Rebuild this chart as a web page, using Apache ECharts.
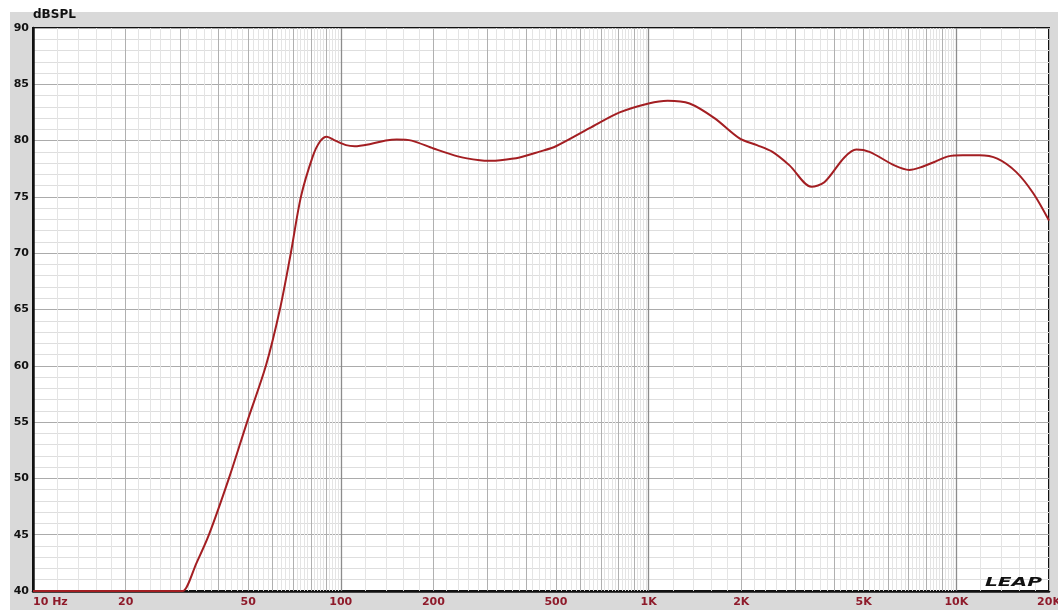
<!DOCTYPE html>
<html>
<head>
<meta charset="utf-8">
<script src="https://cdn.jsdelivr.net/npm/echarts@6/dist/echarts.min.js"></script>
<style>
html,body{margin:0;padding:0;background:#fff;overflow:hidden;}
#chart{width:1058px;height:610px;}
</style>
</head>
<body>
<div id="chart"></div>
<script>
// Frequency (Hz) and SPL (dB)
const freqs = [10, 30.4, 30.7, 34, 37.3, 43.3, 49.6, 57.1, 63.4, 68.8, 74.2, 81.1, 85.5, 90, 96, 104, 111, 125, 140, 152, 170, 200, 240, 283, 305, 330, 381, 440, 500, 643, 805, 1000, 1153, 1359, 1637, 1975, 2250, 2527, 2870, 3381, 3725, 4326, 4731, 5219, 6292, 7032, 7600, 8484, 9400, 10500, 11876, 13588, 15660, 17800, 20000];
const spl = [40, 40, 40, 42.5, 45, 50, 55, 60, 65, 70, 75, 78.6, 79.9, 80.35, 80.0, 79.6, 79.5, 79.7, 80.0, 80.1, 80.0, 79.3, 78.6, 78.25, 78.2, 78.25, 78.5, 79.0, 79.5, 81.1, 82.5, 83.3, 83.55, 83.3, 82.0, 80.2, 79.6, 79.0, 77.8, 75.9, 76.3, 78.5, 79.2, 79.0, 77.8, 77.4, 77.6, 78.1, 78.6, 78.7, 78.7, 78.4, 77.2, 75.3, 72.9];
const xTickValues = [10, 20, 50, 100, 200, 500, 1000, 2000, 5000, 10000, 20000];
const xTickLabels = ['10 Hz', '20', '50', '100', '200', '500', '1K', '2K', '5K', '10K', '20K'];
const yMin = 40, yMax = 90, yStep = 5;
const yName = 'dBSPL';

const curve = freqs.map((f, i) => [f, spl[i]]);

// vertical grid lines: every 0.2 of each decade unit
const vLines = [];
[10, 100, 1000, 10000].forEach(dec => {
  for (let k = 5; k < 50; k++) {
    const f = k * dec / 5;
    if (f > 20000 || f <= 10) continue;
    let style;
    if (k === 5) style = {color: '#8c8c8c', width: 1.3, type: 'solid'};
    else if (k % 5 === 0) style = {color: '#b0b0b0', width: 1, type: 'solid'};
    else style = {color: '#e4e4e4', width: 1, type: 'solid'};
    vLines.push({xAxis: f, lineStyle: style});
  }
});

const chart = echarts.init(document.getElementById('chart'), null, {renderer: 'canvas'});
const labelFont = 'DejaVu Sans';
chart.setOption({
  animation: false,
  backgroundColor: '#d9d9d9',
  graphic: [
    {type: 'rect', left: 0, top: 0, shape: {width: 1058, height: 12}, style: {fill: '#ffffff'}, z: -10, silent: true},
    {type: 'rect', left: 0, top: 0, shape: {width: 10, height: 610}, style: {fill: '#ffffff'}, z: -10, silent: true},
    {type: 'text', x: 985, y: 576, scaleX: 1.55, style: {text: 'LEAP', font: 'italic bold 13px "DejaVu Sans"', fill: '#111'}, z: 50, silent: true}
  ],
  grid: {left: 33, right: 9, top: 28, bottom: 19, show: true, backgroundColor: '#ffffff', borderColor: '#111', borderWidth: 2, containLabel: false, outerBoundsMode: 'none'},
  xAxis: {
    type: 'log', logBase: 10, min: 10, max: 20000,
    axisLine: {show: true, onZero: false, lineStyle: {color: '#111', width: 2.5}},
    axisTick: {show: false},
    splitLine: {show: false},
    axisLabel: {
      customValues: xTickValues,
      formatter: v => { const i = xTickValues.findIndex(t => Math.abs(t - v) / t < 1e-6); return i >= 0 ? xTickLabels[i] : ''; },
      color: '#8e1a2a', fontFamily: labelFont, fontWeight: 'bold', fontSize: 11, margin: 6,
      alignMinLabel: 'left', showMinLabel: true, showMaxLabel: true, hideOverlap: false
    }
  },
  yAxis: {
    type: 'value', min: yMin, max: yMax, interval: yStep,
    name: yName, nameLocation: 'end', nameGap: 7,
    nameTextStyle: {color: '#111', fontFamily: labelFont, fontWeight: 'bold', fontSize: 12, align: 'left', verticalAlign: 'bottom'},
    axisLine: {show: true, lineStyle: {color: '#111', width: 2.5}},
    axisTick: {show: false},
    axisLabel: {color: '#111', fontFamily: labelFont, fontWeight: 'bold', fontSize: 11, margin: 4},
    splitLine: {show: true, lineStyle: {color: '#ababab', width: 1}},
    minorTick: {show: false, splitNumber: 5},
    minorSplitLine: {show: true, lineStyle: {color: '#dedede', width: 1}}
  },
  series: [
    {
      type: 'line', name: 'grid', z: 1, data: [[10, 40]], symbol: 'none', lineStyle: {width: 0}, silent: true,
      markLine: {silent: true, symbol: ['none', 'none'], label: {show: false}, animation: false, data: vLines}
    },
    {
      type: 'line', name: 'SPL', z: 5, data: curve, symbol: 'none', clip: false,
      smooth: 0.3,
      lineStyle: {color: '#a31e22', width: 2}
    }
  ]
});
</script>
</body>
</html>
